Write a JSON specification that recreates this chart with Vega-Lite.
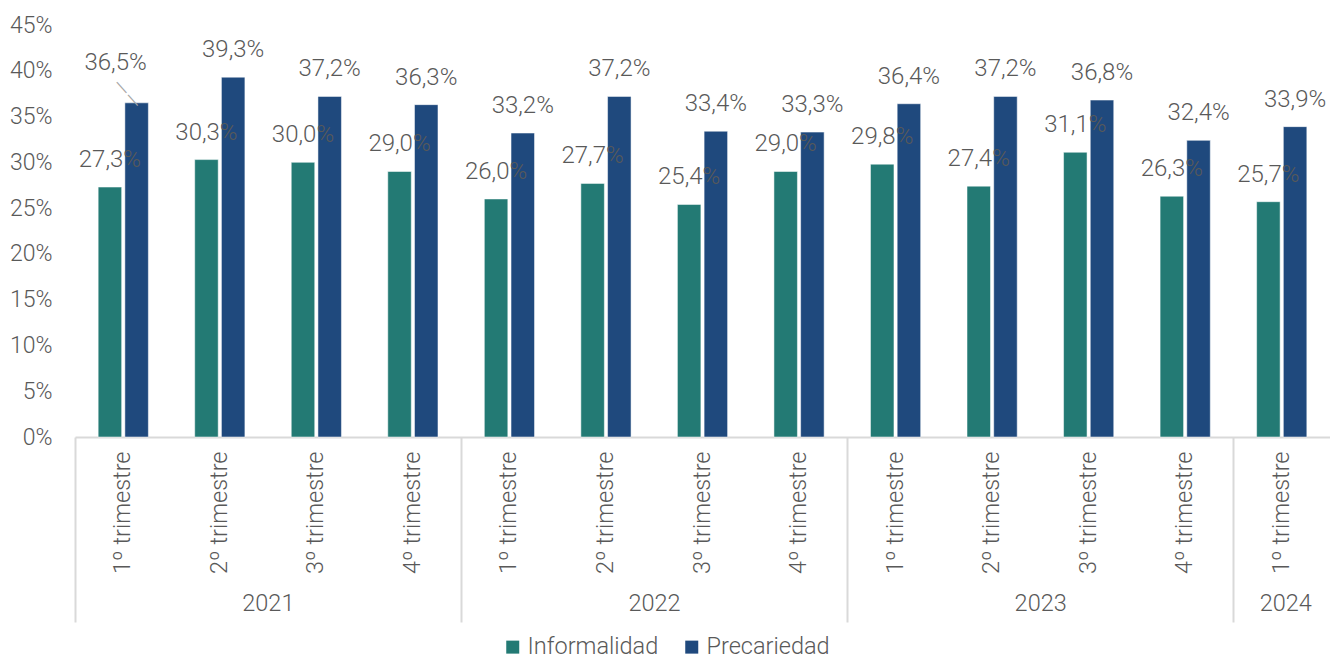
{
  "$schema": "https://vega.github.io/schema/vega-lite/v6.json",
  "width": 1255,
  "height": 412,
  "autosize": {"type": "none"},
  "padding": {"left": 75, "top": 25, "right": 0, "bottom": 219},
  "background": "white",
  "config": {
    "view": {"stroke": null},
    "font": "Roboto",
    "locale": {"number": {"decimal": ",", "thousands": ".", "grouping": [3], "currency": ["", " €"]}},
    "axis": {"labelFont": "Roboto", "labelFontWeight": 300, "labelColor": "#595959", "grid": false},
    "legend": {"labelFont": "Roboto", "labelFontWeight": 300, "labelColor": "#595959"}
  },
  "data": {
    "values": [
      {"periodo": "2021 1º trimestre", "serie": "Informalidad", "valor": 0.273},
      {"periodo": "2021 1º trimestre", "serie": "Precariedad", "valor": 0.365},
      {"periodo": "2021 2º trimestre", "serie": "Informalidad", "valor": 0.303},
      {"periodo": "2021 2º trimestre", "serie": "Precariedad", "valor": 0.393},
      {"periodo": "2021 3º trimestre", "serie": "Informalidad", "valor": 0.300},
      {"periodo": "2021 3º trimestre", "serie": "Precariedad", "valor": 0.372},
      {"periodo": "2021 4º trimestre", "serie": "Informalidad", "valor": 0.290},
      {"periodo": "2021 4º trimestre", "serie": "Precariedad", "valor": 0.363},
      {"periodo": "2022 1º trimestre", "serie": "Informalidad", "valor": 0.260},
      {"periodo": "2022 1º trimestre", "serie": "Precariedad", "valor": 0.332},
      {"periodo": "2022 2º trimestre", "serie": "Informalidad", "valor": 0.277},
      {"periodo": "2022 2º trimestre", "serie": "Precariedad", "valor": 0.372},
      {"periodo": "2022 3º trimestre", "serie": "Informalidad", "valor": 0.254},
      {"periodo": "2022 3º trimestre", "serie": "Precariedad", "valor": 0.334},
      {"periodo": "2022 4º trimestre", "serie": "Informalidad", "valor": 0.290},
      {"periodo": "2022 4º trimestre", "serie": "Precariedad", "valor": 0.333},
      {"periodo": "2023 1º trimestre", "serie": "Informalidad", "valor": 0.298},
      {"periodo": "2023 1º trimestre", "serie": "Precariedad", "valor": 0.364},
      {"periodo": "2023 2º trimestre", "serie": "Informalidad", "valor": 0.274},
      {"periodo": "2023 2º trimestre", "serie": "Precariedad", "valor": 0.372},
      {"periodo": "2023 3º trimestre", "serie": "Informalidad", "valor": 0.311},
      {"periodo": "2023 3º trimestre", "serie": "Precariedad", "valor": 0.368},
      {"periodo": "2023 4º trimestre", "serie": "Informalidad", "valor": 0.263},
      {"periodo": "2023 4º trimestre", "serie": "Precariedad", "valor": 0.324},
      {"periodo": "2024 1º trimestre", "serie": "Informalidad", "valor": 0.257},
      {"periodo": "2024 1º trimestre", "serie": "Precariedad", "valor": 0.339}
    ]
  },
  "encoding": {
    "xOffset": {"field": "serie", "type": "nominal", "sort": ["Informalidad", "Precariedad"], "scale": {"paddingInner": 0.12, "paddingOuter": 0}},
    "y": {
      "field": "valor", "type": "quantitative",
      "scale": {"domain": [0, 0.45], "nice": false},
      "axis": {"title": null, "format": ".0%", "values": [0, 0.05, 0.1, 0.15, 0.2, 0.25, 0.3, 0.35, 0.4, 0.45], "domain": false, "ticks": false, "labelPadding": 23, "labelFontSize": 23}
    }
  },
  "layer": [
    {
      "mark": {"type": "bar", "stroke": "#ffffff", "strokeWidth": 1, "strokeOpacity": 0.5},
      "encoding": {
        "x": {
          "field": "periodo", "type": "nominal", "sort": null,
          "scale": {"paddingInner": 0.48, "paddingOuter": 0.24},
          "axis": {"orient": "bottom", "title": null, "labelAngle": -90, "labelExpr": "slice(datum.value, 5)", "labelFontSize": 23.5, "ticks": false, "tickSize": 0, "labelPadding": 14, "domain": true, "domainColor": "#D9D9D9", "domainWidth": 2}
        },
        "color": {
          "field": "serie", "type": "nominal",
          "scale": {"domain": ["Informalidad", "Precariedad"], "range": ["#237A74", "#1F497D"]},
          "legend": {"title": null, "orient": "none", "legendX": 426, "legendY": 610, "direction": "horizontal", "symbolType": "square", "symbolSize": 169, "symbolStrokeWidth": 0, "labelFontSize": 23.5, "labelOffset": 3, "columnPadding": 21}
        }
      }
    },
    {
      "transform": [{"filter": "!(datum.periodo == '2021 1º trimestre' && datum.serie == 'Precariedad')"}],
      "mark": {"type": "text", "baseline": "middle", "dy": -27, "fontSize": 24, "fontWeight": 300, "color": "#595959"},
      "encoding": {
        "x": {
          "field": "periodo", "type": "nominal", "sort": null,
          "axis": {"orient": "bottom", "title": null, "values": ["2021 3º trimestre", "2022 3º trimestre", "2023 3º trimestre", "2024 1º trimestre"], "labelExpr": "slice(datum.value, 0, 4)", "labelAngle": 0, "labelAlign": "center", "labelFontSize": 23.5, "ticks": false, "tickSize": 0, "domain": false, "labelPadding": 154, "labelOffset": {"condition": {"test": "datum.value == '2024 1º trimestre'", "value": 4}, "value": -48}}
        },
        "text": {"field": "valor", "type": "quantitative", "format": ".1%"}
      }
    },
    {
      "transform": [{"filter": "datum.periodo == '2021 1º trimestre' && datum.serie == 'Precariedad'"}],
      "mark": {"type": "text", "baseline": "middle", "dx": -21, "dy": -40, "fontSize": 24, "fontWeight": 300, "color": "#595959"},
      "encoding": {
        "x": {
          "field": "periodo", "type": "nominal", "sort": null,
          "axis": {"orient": "bottom", "title": null, "values": ["2021 1º trimestre", "2022 1º trimestre", "2023 1º trimestre", "2024 1º trimestre"], "bandPosition": 0, "tickOffset": -23.2, "labels": false, "ticks": true, "tickSize": 185, "tickColor": "#D9D9D9", "tickWidth": 2, "domain": false}
        },
        "text": {"field": "valor", "type": "quantitative", "format": ".1%"}
      }
    },
    {
      "transform": [{"filter": "datum.periodo == '2021 1º trimestre' && datum.serie == 'Precariedad'"}],
      "mark": {"type": "text", "text": "――", "angle": 48, "baseline": "middle", "align": "center", "dx": -13, "dy": 2, "fontSize": 22, "fontWeight": 300, "color": "#A6A6A6"},
      "encoding": {
        "x": {"field": "periodo", "type": "nominal", "sort": null, "axis": null}
      }
    }
  ],
  "resolve": {"axis": {"x": "independent"}}
}
